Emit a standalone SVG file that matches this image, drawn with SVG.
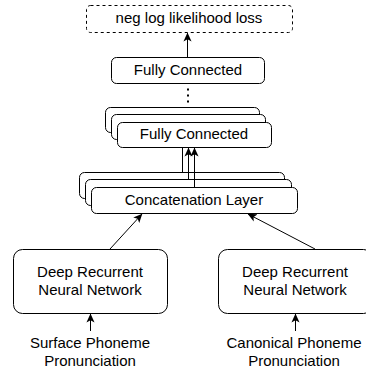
<svg xmlns="http://www.w3.org/2000/svg" width="366" height="370" viewBox="0 0 366 370">
<style>
.box{fill:#fff;stroke:#000;stroke-width:1}
.dash{fill:#fff;stroke:#000;stroke-width:1;stroke-dasharray:3 3}
.t{font-family:"Liberation Sans",Arial,Helvetica,sans-serif;font-size:15px;fill:#000;text-anchor:middle}
.c{fill:none;stroke:#000;stroke-width:1}
</style>
<defs>
<marker id="arr" viewBox="0 0 10 9" refX="9.5" refY="4.5" markerWidth="9" markerHeight="9" markerUnits="userSpaceOnUse" orient="auto">
<path d="M0,0 L10,4.5 L0,9 L2.5,4.5 Z" fill="#000"/>
</marker>
</defs>
<g id="loss">
<rect class="dash" x="86.5" y="5.5" width="206" height="27" rx="4"/>
<text class="t" x="189" y="23">neg log likelihood loss</text>
</g>
<g id="fc-top">
<rect class="box" x="111.5" y="57.5" width="153" height="26" rx="5"/>
<text class="t" x="188" y="75">Fully Connected</text>
</g>
<g id="fc-stack">
<rect class="box" x="105.5" y="107.5" width="154" height="25" rx="5"/>
<rect class="box" x="111.5" y="114.5" width="154" height="25" rx="5"/>
<rect class="box" x="117.5" y="122.5" width="154" height="25" rx="5"/>
<text class="t" x="194" y="139">Fully Connected</text>
</g>
<g id="concat">
<rect class="box" x="79.5" y="172.5" width="205" height="26" rx="5"/>
<rect class="box" x="85.5" y="179.5" width="206" height="26" rx="5"/>
<rect class="box" x="91.5" y="187.5" width="206" height="26" rx="5"/>
<text class="t" x="194" y="205">Concatenation Layer</text>
</g>
<g id="rnn-left">
<rect class="box" x="13.5" y="249.5" width="154" height="64" rx="9"/>
<text class="t" x="90" y="277">Deep Recurrent</text>
<text class="t" x="90" y="295">Neural Network</text>
</g>
<g id="rnn-right">
<rect class="box" x="218.5" y="249.5" width="154" height="64" rx="9"/>
<text class="t" x="295" y="277">Deep Recurrent</text>
<text class="t" x="295" y="295">Neural Network</text>
</g>
<g id="input-surface">
<text class="t" x="90" y="347.5">Surface Phoneme</text>
<text class="t" x="90" y="366">Pronunciation</text>
</g>
<g id="input-canonical">
<text class="t" x="294" y="347.5">Canonical Phoneme</text>
<text class="t" x="294" y="366">Pronunciation</text>
</g>
<g id="connectors">
<line class="c" x1="187.5" y1="57" x2="187.5" y2="33" marker-end="url(#arr)"/>
<line x1="188" y1="88.5" x2="188" y2="103.5" stroke="#000" stroke-width="2" stroke-dasharray="2 4"/>
<line class="c" x1="182.5" y1="172" x2="182.5" y2="148"/>
<line class="c" x1="188.5" y1="179" x2="188.5" y2="148" marker-end="url(#arr)"/>
<line class="c" x1="194.5" y1="187" x2="194.5" y2="148" marker-end="url(#arr)"/>
<line class="c" x1="110" y1="249" x2="142" y2="214" marker-end="url(#arr)"/>
<line class="c" x1="315" y1="249" x2="248" y2="214" marker-end="url(#arr)"/>
<line class="c" x1="90.5" y1="331" x2="90.5" y2="314" marker-end="url(#arr)"/>
<line class="c" x1="295.5" y1="331" x2="295.5" y2="314" marker-end="url(#arr)"/>
</g>
</svg>
